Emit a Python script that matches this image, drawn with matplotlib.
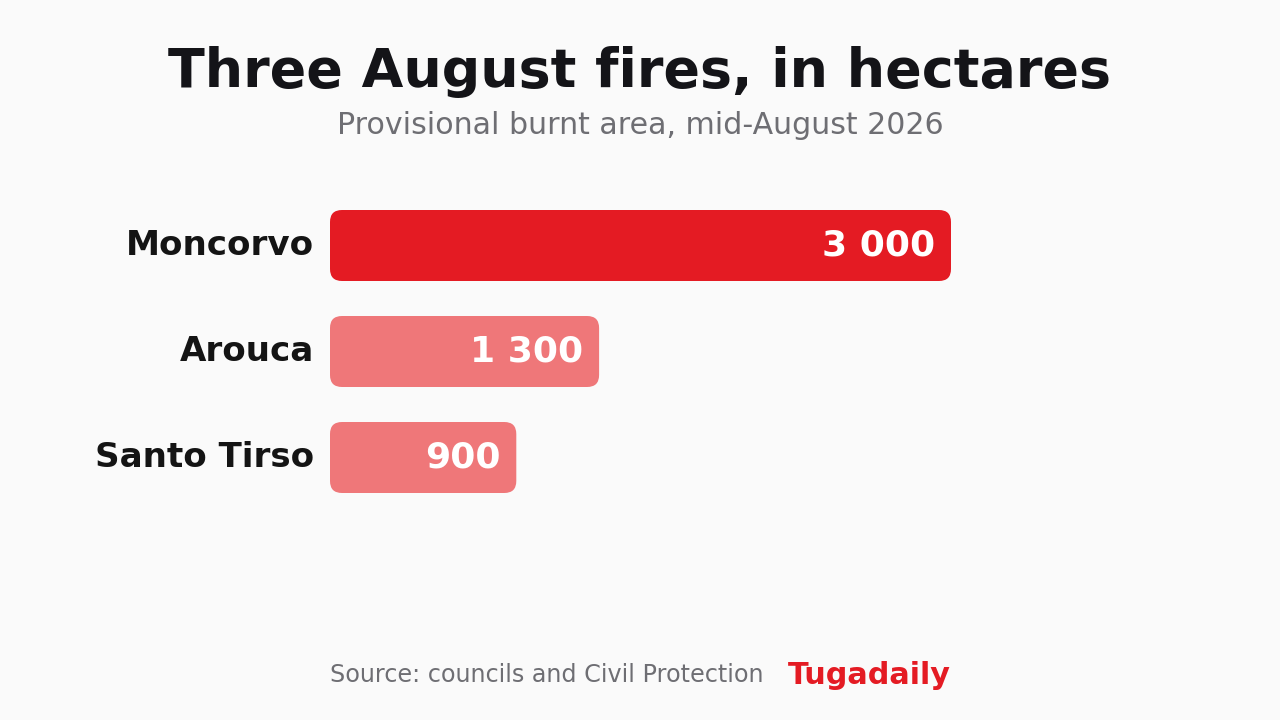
import matplotlib.pyplot as plt
from matplotlib.patches import FancyBboxPatch

plt.rcParams['font.family'] = ['DejaVu Sans']

# 数据
towns = ['Moncorvo', 'Arouca', 'Santo Tirso']
hectares = [3000, 1300, 900]
value_labels = ['3 000', '1 300', '900']

title = 'Three August fires, in hectares'
subtitle = 'Provisional burnt area, mid-August 2026'
source = 'Source: councils and Civil Protection'
brand = 'Tugadaily'

bg = '#fafafa'
red = '#e41b23'
pale = '#ef7779'

W, H = 1280, 720
fig = plt.figure(figsize=(12.8, 7.2), dpi=100, facecolor=bg)

# 坐标轴位置(像素换算)
x0, x1 = 330, 951
ax = fig.add_axes([x0 / W, (H - 510.5) / H, (x1 - x0) / W, 318 / H])
ax.set_facecolor(bg)
xmax = max(hectares)
ax.set_xlim(0, xmax)
ax.set_ylim(len(towns) - 0.5, -0.5)
ax.axis('off')

px_per_x = (x1 - x0) / xmax
px_per_y = 106
bar_h = 71 / 106
radius_px = 12

for i, (town, v, lab) in enumerate(zip(towns, hectares, value_labels)):
    color = red if i == 0 else pale
    box = FancyBboxPatch((0, i - bar_h / 2), v, bar_h,
                         boxstyle='round,pad=0,rounding_size=%f' % (radius_px / px_per_x),
                         mutation_aspect=px_per_x / px_per_y,
                         facecolor=color, edgecolor='none')
    ax.add_patch(box)
    ax.text(v - 16 / px_per_x, i, lab, ha='right', va='center',
            color='white', fontsize=26, fontweight='bold')
    ax.text(-16 / px_per_x, i, town, ha='right', va='center',
            color='#141414', fontsize=24.6, fontweight='bold', clip_on=False)

fig.text(0.5, 1 - 72 / H, title, ha='center', va='center',
         fontsize=38.8, fontweight='bold', color='#141418')
fig.text(0.5, 1 - 125 / H, subtitle, ha='center', va='center',
         fontsize=21.6, color='#6e6e73')
fig.text(x0 / W, 1 - 675 / H, source, ha='left', va='center',
         fontsize=17.2, color='#6e6e73')
fig.text(x1 / W, 1 - 675 / H, brand, ha='right', va='center',
         fontsize=21.8, fontweight='bold', color=red)

fig.savefig('out.png', dpi=100, facecolor=bg)
